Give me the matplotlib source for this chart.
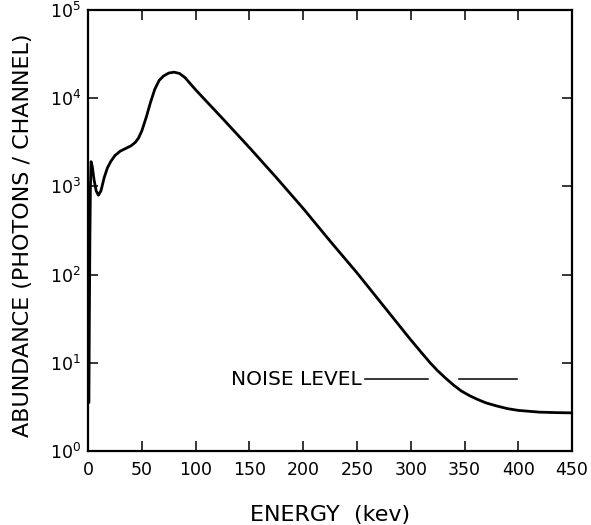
import numpy as np
import matplotlib
matplotlib.use("Agg")
import matplotlib.pyplot as plt
from matplotlib.ticker import LogLocator, NullLocator

# ---------- data ----------
energy_kev = [0.8, 1.2, 1.7, 2.2, 2.8, 4.0, 5.5, 7.5, 9.6, 12, 15, 18, 21, 25,
              30, 35, 40, 44, 47, 50, 54, 58, 62, 66, 70, 75, 80, 85, 90, 100,
              125, 150, 175, 200, 225, 250, 275, 300, 310, 318, 325, 332, 340,
              347, 355, 362, 370, 380, 390, 400, 410, 420, 435, 450]
log_abundance = [0.55, 1.5, 2.4, 3.0, 3.28, 3.22, 3.08, 2.95, 2.90, 2.95, 3.10,
                 3.21, 3.28, 3.35, 3.40, 3.43, 3.46, 3.50, 3.55, 3.63, 3.78,
                 3.95, 4.10, 4.20, 4.25, 4.285, 4.295, 4.28, 4.235, 4.095, 3.77,
                 3.44, 3.10, 2.75, 2.38, 2.02, 1.64, 1.26, 1.115, 1.0, 0.91,
                 0.83, 0.745, 0.68, 0.625, 0.585, 0.545, 0.51, 0.48, 0.46, 0.45,
                 0.44, 0.435, 0.432]
abundance = [10 ** v for v in log_abundance]

noise_level = 6.5
noise_segments = [(257.5, 316.4), (345.2, 399.1)]

x_ticks = [0, 50, 100, 150, 200, 250, 300, 350, 400, 450]

# ---------- figure ----------
fig = plt.figure(figsize=(5.91, 5.25), dpi=100)
ax = fig.add_axes([0.149, 0.141, 0.819, 0.840])

ax.plot(energy_kev, abundance, color="black", lw=2.0,
        solid_joinstyle="round", solid_capstyle="round")

for x0, x1 in noise_segments:
    ax.plot([x0, x1], [noise_level, noise_level], color="black", lw=1.1)
ax.text(254, noise_level, "NOISE LEVEL", fontsize=14.5, ha="right",
        va="center", color="black")

ax.set_yscale("log")
ax.set_xlim(0, 450)
ax.set_ylim(1, 1e5)
ax.set_xticks(x_ticks)
ax.yaxis.set_major_locator(LogLocator(base=10, numticks=10))
ax.yaxis.set_minor_locator(NullLocator())

for s in ax.spines.values():
    s.set_linewidth(1.6)

ax.tick_params(axis="both", which="major", direction="in", length=7,
               width=1.1, top=True, right=True, labelsize=12.5, pad=7)
ax.tick_params(axis="y", pad=5)

ax.set_xlabel("ENERGY  (kev)", fontsize=16)
ax.set_ylabel("ABUNDANCE (PHOTONS / CHANNEL)", fontsize=16)
ax.xaxis.set_label_coords(0.5, -0.122)
ax.yaxis.set_label_coords(-0.114, 0.49)

fig.savefig("out.png", dpi=100)
